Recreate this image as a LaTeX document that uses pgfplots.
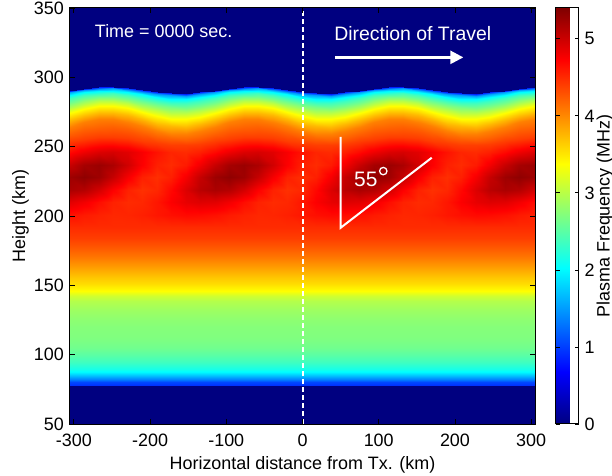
\documentclass[border=0pt]{standalone}
\usepackage{pgfplots}
\pgfplotsset{compat=1.18}
\usepackage{fontspec}
\setmainfont{Liberation Sans}
\usetikzlibrary{arrows.meta}
\definecolor{jetnavy}{rgb}{0,0,0.5}
\newcommand\myfont{\fontsize{18}{21}\selectfont}
\begin{document}
\myfont
\begin{tikzpicture}
\begin{axis}[
  name=ax,
  scale only axis, width=465bp, height=416bp,
  xmin=-305, xmax=305, ymin=50, ymax=350,
  xtick={-300,-200,-100,0,100,200,300},
  ytick={50,100,150,200,250,300,350},
  tick align=inside, major tick length=5bp,
  tick style={line width=0.8bp, black},
  axis line style={line width=1bp},
  axis background/.style={fill=jetnavy},
  axis on top,
  /pgf/number format/assume math mode=true,
  tick label style={font=\myfont},
  xticklabel style={yshift=-3.5bp},
  label style={font=\myfont},
  xlabel={Horizontal distance from Tx. (km)},
  xlabel style={yshift=2bp},
  ylabel={Height (km)},
  ylabel shift=-7bp,
  colormap/jet,
  point meta min=0, point meta max=5.4,
  colorbar,
  colorbar style={
    at={(parent axis.north east)}, anchor=north west, xshift=12bp,
    width=23bp,
    ytick={0,1,2,3,4,5},
    yticklabel pos=right,
    tick align=inside, major tick length=4bp,
    tick style={line width=0.8bp, black},
    axis line style={line width=1bp},
    /pgf/number format/assume math mode=true,
    yticklabel style={font=\myfont},
  },
]
% lower, horizontally uniform part
\addplot[surf, shader=interp, mesh/cols=2, point meta=explicit]
 table[row sep=\\, x index=0, y index=1, meta index=2] {
-305 77.5 0.9\\ 305 77.5 0.9\\
-305 80 1.05\\ 305 80 1.05\\
-305 82.5 1.4\\ 305 82.5 1.4\\
-305 85 1.75\\ 305 85 1.75\\
-305 87.5 2.0\\ 305 87.5 2.0\\
-305 90 2.15\\ 305 90 2.15\\
-305 95 2.36\\ 305 95 2.36\\
-305 100 2.5\\ 305 100 2.5\\
-305 105 2.62\\ 305 105 2.62\\
-305 112 2.7\\ 305 112 2.7\\
-305 120 2.73\\ 305 120 2.73\\
-305 126 2.78\\ 305 126 2.78\\
-305 132 2.86\\ 305 132 2.86\\
-305 139 2.98\\ 305 139 2.98\\
-305 142.5 3.12\\ 305 142.5 3.12\\
-305 146 3.37\\ 305 146 3.37\\
-305 151 3.55\\ 305 151 3.55\\
-305 156 3.68\\ 305 156 3.68\\
-305 162 3.85\\ 305 162 3.85\\
-305 170 4.08\\ 305 170 4.08\\
-305 177 4.25\\ 305 177 4.25\\
-305 184 4.4\\ 305 184 4.4\\
-305 192 4.5\\ 305 192 4.5\\
};
% wave-perturbed upper part
\addplot[surf, shader=interp, mesh/cols=33, point meta=explicit]
 table[row sep=\\, x index=0, y index=1, meta index=2] {
-305 192 4.5\\ -286 192 4.5\\ -267 192 4.5\\ -248 192 4.5\\ -229 192 4.5\\ -210 192 4.5\\ -191 192 4.5\\ -172 192 4.5\\ -153 192 4.5\\ -134 192 4.5\\ -115 192 4.5\\ -96 192 4.5\\ -77 192 4.5\\ -58 192 4.5\\ -39 192 4.5\\ -20 192 4.5\\ -1 192 4.5\\ 18 192 4.5\\ 37 192 4.5\\ 56 192 4.5\\ 75 192 4.5\\ 94 192 4.5\\ 113 192 4.5\\ 132 192 4.5\\ 151 192 4.5\\ 170 192 4.5\\ 189 192 4.5\\ 208 192 4.5\\ 227 192 4.5\\ 246 192 4.5\\ 265 192 4.5\\ 284 192 4.5\\ 305 192 4.5\\
-305 201 4.64\\ -286 201 4.59\\ -267 201 4.55\\ -248 201 4.52\\ -229 201 4.53\\ -210 201 4.56\\ -191 201 4.61\\ -172 201 4.65\\ -153 201 4.68\\ -134 201 4.67\\ -115 201 4.64\\ -96 201 4.59\\ -77 201 4.55\\ -58 201 4.52\\ -39 201 4.53\\ -20 201 4.56\\ -1 201 4.61\\ 18 201 4.65\\ 37 201 4.68\\ 56 201 4.67\\ 75 201 4.64\\ 94 201 4.59\\ 113 201 4.55\\ 132 201 4.52\\ 151 201 4.53\\ 170 201 4.56\\ 189 201 4.61\\ 208 201 4.65\\ 227 201 4.68\\ 246 201 4.67\\ 265 201 4.64\\ 284 201 4.59\\ 305 201 4.55\\
-305 210 4.88\\ -286 210 4.79\\ -267 210 4.66\\ -248 210 4.55\\ -229 210 4.50\\ -210 210 4.52\\ -191 210 4.61\\ -172 210 4.74\\ -153 210 4.85\\ -134 210 4.90\\ -115 210 4.88\\ -96 210 4.79\\ -77 210 4.66\\ -58 210 4.55\\ -39 210 4.50\\ -20 210 4.52\\ -1 210 4.61\\ 18 210 4.74\\ 37 210 4.85\\ 56 210 4.90\\ 75 210 4.88\\ 94 210 4.79\\ 113 210 4.66\\ 132 210 4.55\\ 151 210 4.50\\ 170 210 4.52\\ 189 210 4.61\\ 208 210 4.74\\ 227 210 4.85\\ 246 210 4.90\\ 265 210 4.88\\ 284 210 4.79\\ 305 210 4.66\\
-305 219 5.17\\ -286 219 5.12\\ -267 219 4.95\\ -248 219 4.73\\ -229 219 4.55\\ -210 219 4.47\\ -191 219 4.52\\ -172 219 4.69\\ -153 219 4.91\\ -134 219 5.09\\ -115 219 5.17\\ -96 219 5.12\\ -77 219 4.95\\ -58 219 4.73\\ -39 219 4.55\\ -20 219 4.47\\ -1 219 4.52\\ 18 219 4.69\\ 37 219 4.91\\ 56 219 5.09\\ 75 219 5.17\\ 94 219 5.12\\ 113 219 4.95\\ 132 219 4.73\\ 151 219 4.55\\ 170 219 4.47\\ 189 219 4.52\\ 208 219 4.69\\ 227 219 4.91\\ 246 219 5.09\\ 265 219 5.17\\ 284 219 5.12\\ 305 219 4.95\\
-305 228 5.24\\ -286 228 5.32\\ -267 228 5.24\\ -248 228 5.03\\ -229 228 4.77\\ -210 228 4.56\\ -191 228 4.48\\ -172 228 4.56\\ -153 228 4.77\\ -134 228 5.03\\ -115 228 5.24\\ -96 228 5.32\\ -77 228 5.24\\ -58 228 5.03\\ -39 228 4.77\\ -20 228 4.56\\ -1 228 4.48\\ 18 228 4.56\\ 37 228 4.77\\ 56 228 5.03\\ 75 228 5.24\\ 94 228 5.32\\ 113 228 5.24\\ 132 228 5.03\\ 151 228 4.77\\ 170 228 4.56\\ 189 228 4.48\\ 208 228 4.56\\ 227 228 4.77\\ 246 228 5.03\\ 265 228 5.24\\ 284 228 5.32\\ 305 228 5.24\\
-305 237 5.02\\ -286 237 5.20\\ -267 237 5.26\\ -248 237 5.17\\ -229 237 4.97\\ -210 237 4.74\\ -191 237 4.56\\ -172 237 4.50\\ -153 237 4.59\\ -134 237 4.79\\ -115 237 5.02\\ -96 237 5.20\\ -77 237 5.26\\ -58 237 5.17\\ -39 237 4.97\\ -20 237 4.74\\ -1 237 4.56\\ 18 237 4.50\\ 37 237 4.59\\ 56 237 4.79\\ 75 237 5.02\\ 94 237 5.20\\ 113 237 5.26\\ 132 237 5.17\\ 151 237 4.97\\ 170 237 4.74\\ 189 237 4.56\\ 208 237 4.50\\ 227 237 4.59\\ 246 237 4.79\\ 265 237 5.02\\ 284 237 5.20\\ 305 237 5.26\\
-305 246 4.68\\ -286 246 4.81\\ -267 246 4.91\\ -248 246 4.94\\ -229 246 4.88\\ -210 246 4.76\\ -191 246 4.63\\ -172 246 4.53\\ -153 246 4.50\\ -134 246 4.56\\ -115 246 4.68\\ -96 246 4.81\\ -77 246 4.91\\ -58 246 4.94\\ -39 246 4.88\\ -20 246 4.76\\ -1 246 4.63\\ 18 246 4.53\\ 37 246 4.50\\ 56 246 4.56\\ 75 246 4.68\\ 94 246 4.81\\ 113 246 4.91\\ 132 246 4.94\\ 151 246 4.88\\ 170 246 4.76\\ 189 246 4.63\\ 208 246 4.53\\ 227 246 4.50\\ 246 246 4.56\\ 265 246 4.68\\ 284 246 4.81\\ 305 246 4.91\\
-305 253.8 4.4\\ -286 255.6 4.4\\ -267 256.8 4.4\\ -248 256.9 4.4\\ -229 255.9 4.4\\ -210 254.2 4.4\\ -191 252.4 4.4\\ -172 251.2 4.4\\ -153 251.1 4.4\\ -134 252.1 4.4\\ -115 253.8 4.4\\ -96 255.6 4.4\\ -77 256.8 4.4\\ -58 256.9 4.4\\ -39 255.9 4.4\\ -20 254.2 4.4\\ -1 252.4 4.4\\ 18 251.2 4.4\\ 37 251.1 4.4\\ 56 252.1 4.4\\ 75 253.8 4.4\\ 94 255.6 4.4\\ 113 256.8 4.4\\ 132 256.9 4.4\\ 151 255.9 4.4\\ 170 254.2 4.4\\ 189 252.4 4.4\\ 208 251.2 4.4\\ 227 251.1 4.4\\ 246 252.1 4.4\\ 265 253.8 4.4\\ 284 255.6 4.4\\ 305 256.8 4.4\\
-305 259.2 4.22\\ -286 261.9 4.22\\ -267 263.7 4.22\\ -248 263.9 4.22\\ -229 262.4 4.22\\ -210 259.8 4.22\\ -191 257.1 4.22\\ -172 255.3 4.22\\ -153 255.1 4.22\\ -134 256.6 4.22\\ -115 259.2 4.22\\ -96 261.9 4.22\\ -77 263.7 4.22\\ -58 263.9 4.22\\ -39 262.4 4.22\\ -20 259.8 4.22\\ -1 257.1 4.22\\ 18 255.3 4.22\\ 37 255.1 4.22\\ 56 256.6 4.22\\ 75 259.2 4.22\\ 94 261.9 4.22\\ 113 263.7 4.22\\ 132 263.9 4.22\\ 151 262.4 4.22\\ 170 259.8 4.22\\ 189 257.1 4.22\\ 208 255.3 4.22\\ 227 255.1 4.22\\ 246 256.6 4.22\\ 265 259.2 4.22\\ 284 261.9 4.22\\ 305 263.7 4.22\\
-305 264.2 4.05\\ -286 267.5 4.05\\ -267 269.6 4.05\\ -248 269.8 4.05\\ -229 268.0 4.05\\ -210 264.9 4.05\\ -191 261.6 4.05\\ -172 259.4 4.05\\ -153 259.2 4.05\\ -134 261.0 4.05\\ -115 264.2 4.05\\ -96 267.5 4.05\\ -77 269.6 4.05\\ -58 269.8 4.05\\ -39 268.0 4.05\\ -20 264.9 4.05\\ -1 261.6 4.05\\ 18 259.4 4.05\\ 37 259.2 4.05\\ 56 261.0 4.05\\ 75 264.2 4.05\\ 94 267.5 4.05\\ 113 269.6 4.05\\ 132 269.8 4.05\\ 151 268.0 4.05\\ 170 264.9 4.05\\ 189 261.6 4.05\\ 208 259.4 4.05\\ 227 259.2 4.05\\ 246 261.0 4.05\\ 265 264.2 4.05\\ 284 267.5 4.05\\ 305 269.6 4.05\\
-305 269.2 3.75\\ -286 272.3 3.75\\ -267 274.3 3.75\\ -248 274.5 3.75\\ -229 272.8 3.75\\ -210 269.8 3.75\\ -191 266.7 3.75\\ -172 264.7 3.75\\ -153 264.5 3.75\\ -134 266.2 3.75\\ -115 269.2 3.75\\ -96 272.3 3.75\\ -77 274.3 3.75\\ -58 274.5 3.75\\ -39 272.8 3.75\\ -20 269.8 3.75\\ -1 266.7 3.75\\ 18 264.7 3.75\\ 37 264.5 3.75\\ 56 266.2 3.75\\ 75 269.2 3.75\\ 94 272.3 3.75\\ 113 274.3 3.75\\ 132 274.5 3.75\\ 151 272.8 3.75\\ 170 269.8 3.75\\ 189 266.7 3.75\\ 208 264.7 3.75\\ 227 264.5 3.75\\ 246 266.2 3.75\\ 265 269.2 3.75\\ 284 272.3 3.75\\ 305 274.3 3.75\\
-305 274.5 3.38\\ -286 277.3 3.38\\ -267 279.2 3.38\\ -248 279.4 3.38\\ -229 277.8 3.38\\ -210 275.1 3.38\\ -191 272.2 3.38\\ -172 270.3 3.38\\ -153 270.2 3.38\\ -134 271.7 3.38\\ -115 274.5 3.38\\ -96 277.3 3.38\\ -77 279.2 3.38\\ -58 279.4 3.38\\ -39 277.8 3.38\\ -20 275.1 3.38\\ -1 272.2 3.38\\ 18 270.3 3.38\\ 37 270.2 3.38\\ 56 271.7 3.38\\ 75 274.5 3.38\\ 94 277.3 3.38\\ 113 279.2 3.38\\ 132 279.4 3.38\\ 151 277.8 3.38\\ 170 275.1 3.38\\ 189 272.2 3.38\\ 208 270.3 3.38\\ 227 270.2 3.38\\ 246 271.7 3.38\\ 265 274.5 3.38\\ 284 277.3 3.38\\ 305 279.2 3.38\\
-305 278.2 3.0\\ -286 280.9 3.0\\ -267 282.6 3.0\\ -248 282.8 3.0\\ -229 281.3 3.0\\ -210 278.8 3.0\\ -191 276.1 3.0\\ -172 274.4 3.0\\ -153 274.2 3.0\\ -134 275.7 3.0\\ -115 278.2 3.0\\ -96 280.9 3.0\\ -77 282.6 3.0\\ -58 282.8 3.0\\ -39 281.3 3.0\\ -20 278.8 3.0\\ -1 276.1 3.0\\ 18 274.4 3.0\\ 37 274.2 3.0\\ 56 275.7 3.0\\ 75 278.2 3.0\\ 94 280.9 3.0\\ 113 282.6 3.0\\ 132 282.8 3.0\\ 151 281.3 3.0\\ 170 278.8 3.0\\ 189 276.1 3.0\\ 208 274.4 3.0\\ 227 274.2 3.0\\ 246 275.7 3.0\\ 265 278.2 3.0\\ 284 280.9 3.0\\ 305 282.6 3.0\\
-305 281.8 2.65\\ -286 284.1 2.65\\ -267 285.7 2.65\\ -248 285.9 2.65\\ -229 284.5 2.65\\ -210 282.3 2.65\\ -191 279.9 2.65\\ -172 278.3 2.65\\ -153 278.1 2.65\\ -134 279.5 2.65\\ -115 281.8 2.65\\ -96 284.1 2.65\\ -77 285.7 2.65\\ -58 285.9 2.65\\ -39 284.5 2.65\\ -20 282.3 2.65\\ -1 279.9 2.65\\ 18 278.3 2.65\\ 37 278.1 2.65\\ 56 279.5 2.65\\ 75 281.8 2.65\\ 94 284.1 2.65\\ 113 285.7 2.65\\ 132 285.9 2.65\\ 151 284.5 2.65\\ 170 282.3 2.65\\ 189 279.9 2.65\\ 208 278.3 2.65\\ 227 278.1 2.65\\ 246 279.5 2.65\\ 265 281.8 2.65\\ 284 284.1 2.65\\ 305 285.7 2.65\\
-305 284.8 2.35\\ -286 286.9 2.35\\ -267 288.3 2.35\\ -248 288.4 2.35\\ -229 287.2 2.35\\ -210 285.2 2.35\\ -191 283.1 2.35\\ -172 281.7 2.35\\ -153 281.6 2.35\\ -134 282.8 2.35\\ -115 284.8 2.35\\ -96 286.9 2.35\\ -77 288.3 2.35\\ -58 288.4 2.35\\ -39 287.2 2.35\\ -20 285.2 2.35\\ -1 283.1 2.35\\ 18 281.7 2.35\\ 37 281.6 2.35\\ 56 282.8 2.35\\ 75 284.8 2.35\\ 94 286.9 2.35\\ 113 288.3 2.35\\ 132 288.4 2.35\\ 151 287.2 2.35\\ 170 285.2 2.35\\ 189 283.1 2.35\\ 208 281.7 2.35\\ 227 281.6 2.35\\ 246 282.8 2.35\\ 265 284.8 2.35\\ 284 286.9 2.35\\ 305 288.3 2.35\\
-305 287.3 2.0\\ -286 289.1 2.0\\ -267 290.3 2.0\\ -248 290.4 2.0\\ -229 289.4 2.0\\ -210 287.7 2.0\\ -191 285.9 2.0\\ -172 284.7 2.0\\ -153 284.6 2.0\\ -134 285.6 2.0\\ -115 287.3 2.0\\ -96 289.1 2.0\\ -77 290.3 2.0\\ -58 290.4 2.0\\ -39 289.4 2.0\\ -20 287.7 2.0\\ -1 285.9 2.0\\ 18 284.7 2.0\\ 37 284.6 2.0\\ 56 285.6 2.0\\ 75 287.3 2.0\\ 94 289.1 2.0\\ 113 290.3 2.0\\ 132 290.4 2.0\\ 151 289.4 2.0\\ 170 287.7 2.0\\ 189 285.9 2.0\\ 208 284.7 2.0\\ 227 284.6 2.0\\ 246 285.6 2.0\\ 265 287.3 2.0\\ 284 289.1 2.0\\ 305 290.3 2.0\\
-305 289.2 1.5\\ -286 290.9 1.5\\ -267 291.9 1.5\\ -248 292.0 1.5\\ -229 291.1 1.5\\ -210 289.6 1.5\\ -191 288.0 1.5\\ -172 286.9 1.5\\ -153 286.8 1.5\\ -134 287.7 1.5\\ -115 289.2 1.5\\ -96 290.9 1.5\\ -77 291.9 1.5\\ -58 292.0 1.5\\ -39 291.1 1.5\\ -20 289.6 1.5\\ -1 288.0 1.5\\ 18 286.9 1.5\\ 37 286.8 1.5\\ 56 287.7 1.5\\ 75 289.2 1.5\\ 94 290.9 1.5\\ 113 291.9 1.5\\ 132 292.0 1.5\\ 151 291.1 1.5\\ 170 289.6 1.5\\ 189 288.0 1.5\\ 208 286.9 1.5\\ 227 286.8 1.5\\ 246 287.7 1.5\\ 265 289.2 1.5\\ 284 290.9 1.5\\ 305 291.9 1.5\\
-305 290.5 0.85\\ -286 291.9 0.85\\ -267 292.8 0.85\\ -248 292.9 0.85\\ -229 292.1 0.85\\ -210 290.8 0.85\\ -191 289.3 0.85\\ -172 288.4 0.85\\ -153 288.3 0.85\\ -134 289.1 0.85\\ -115 290.5 0.85\\ -96 291.9 0.85\\ -77 292.8 0.85\\ -58 292.9 0.85\\ -39 292.1 0.85\\ -20 290.8 0.85\\ -1 289.3 0.85\\ 18 288.4 0.85\\ 37 288.3 0.85\\ 56 289.1 0.85\\ 75 290.5 0.85\\ 94 291.9 0.85\\ 113 292.8 0.85\\ 132 292.9 0.85\\ 151 292.1 0.85\\ 170 290.8 0.85\\ 189 289.3 0.85\\ 208 288.4 0.85\\ 227 288.3 0.85\\ 246 289.1 0.85\\ 265 290.5 0.85\\ 284 291.9 0.85\\ 305 292.8 0.85\\
};
% annotations
\draw[white, line width=2bp, dash pattern=on 5bp off 3bp] (axis cs:0,50) -- (axis cs:0,350);
\node[white, anchor=base west, inner sep=0pt, font=\myfont] at (axis cs:-272.5,328.8) {Time = 0000 sec.};
\node[white, anchor=base west, inner sep=0pt, font=\fontsize{19.5}{22}\selectfont] at (axis cs:41.5,326.9) {Direction of Travel};
\draw[white, line width=2.5bp, -{Triangle[length=13bp,width=13bp]}] (axis cs:42.6,314.4) -- (axis cs:211,314.4);
\draw[white, line width=2bp] (axis cs:50,257) -- (axis cs:50,191.5) -- (axis cs:169.5,242);
\node[white, anchor=base west, inner sep=0pt, font=\fontsize{21}{24}\selectfont] at (axis cs:67.5,221.1) {55\kern1.5bp\raisebox{11.3bp}{\tikz\draw[white,line width=1.3bp] (0,0) circle[radius=3.7bp];}};
\end{axis}
\node[rotate=90, anchor=north, inner sep=0pt, font=\myfont] at ([xshift=61.5bp]ax.east) {Plasma Frequency (MHz)};
\pgfresetboundingbox
\path[use as bounding box] ([xshift=-70bp,yshift=-52bp]ax.south west) rectangle ([xshift=77bp,yshift=8bp]ax.north east);
\end{tikzpicture}
\end{document}
